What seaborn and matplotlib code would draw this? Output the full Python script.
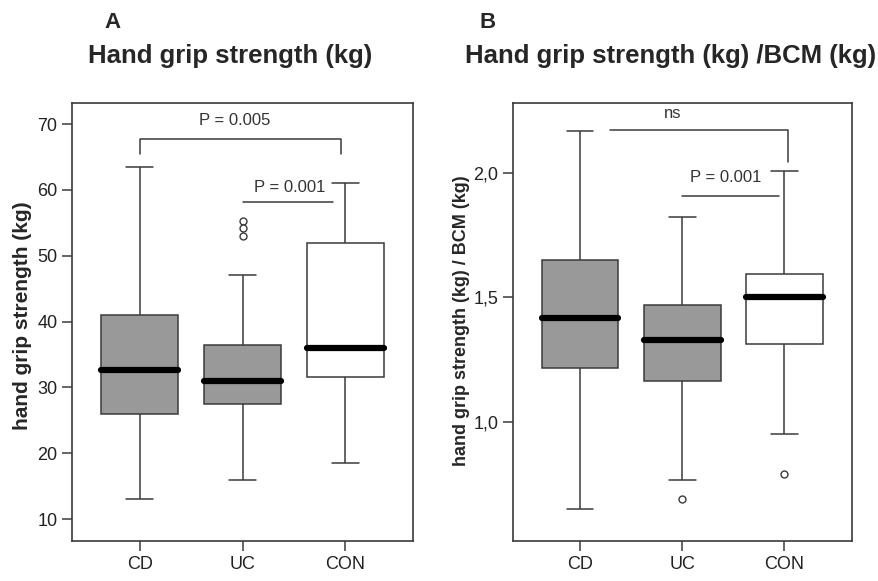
import pandas as pd
import matplotlib.pyplot as plt
import seaborn as sns

groups = ["CD", "UC", "CON"]

# panel A - hand grip strength (kg): whisker low, q1, median, q3, whisker high
grip_low = [13.0, 16.0, 18.5]
grip_q1 = [26.0, 27.5, 31.5]
grip_med = [32.6, 31.0, 36.0]
grip_q3 = [41.0, 36.5, 52.0]
grip_high = [63.4, 47.0, 61.0]
grip_out_grp = ["UC", "UC", "UC"]
grip_out = [55.3, 54.2, 53.0]

# panel B - hand grip strength / BCM
bcm_low = [0.652, 0.769, 0.951]
bcm_q1 = [1.218, 1.163, 1.312]
bcm_med = [1.419, 1.329, 1.502]
bcm_q3 = [1.649, 1.471, 1.596]
bcm_high = [2.169, 1.823, 2.007]
bcm_out_grp = ["UC", "CON"]
bcm_out = [0.692, 0.790]


def five_num_frame(lo, q1, med, q3, hi):
    rows = []
    for i, g in enumerate(groups):
        for v in (lo[i], q1[i], med[i], q3[i], hi[i]):
            rows.append({"group": g, "value": v})
    return pd.DataFrame(rows)


sns.set_theme(style="white")
plt.rcParams['font.family'] = ['Liberation Sans', 'DejaVu Sans']

edge = "#3a3a3a"
fills = {"CD": "#999999", "UC": "#999999", "CON": "white"}

fig = plt.figure(figsize=(8.79, 5.81), dpi=100)
axA = fig.add_axes([0.0819, 0.0688, 0.388, 0.754])
axB = fig.add_axes([0.5833, 0.0688, 0.3857, 0.754])

panels = [
    (axA, five_num_frame(grip_low, grip_q1, grip_med, grip_q3, grip_high), grip_out_grp, grip_out),
    (axB, five_num_frame(bcm_low, bcm_q1, bcm_med, bcm_q3, bcm_high), bcm_out_grp, bcm_out),
]
for ax, d, og, ov in panels:
    sns.boxplot(data=d, x="group", y="value", hue="group", order=groups, hue_order=groups,
                palette=fills, whis=(0, 100), width=0.75, showfliers=False, legend=False,
                linecolor=edge, linewidth=1.1, capwidths=0.26,
                medianprops=dict(color="black", linewidth=4.5, solid_capstyle="round"),
                ax=ax)
    sns.stripplot(x=og, y=ov, order=groups, jitter=False, color="white", edgecolor=edge,
                  linewidth=1, size=5, ax=ax, zorder=5)
    ax.set_xlim(-0.66, 2.66)
    ax.set_xlabel("")
    for s in ax.spines.values():
        s.set_visible(True)
        s.set_color(edge)
        s.set_linewidth(1.2)
    ax.tick_params(axis="both", direction="out", length=7, width=1.1, color=edge,
                   labelsize=13, labelcolor="#222222", left=True, bottom=True)

# panel A axes
axA.set_ylim(6.66, 73.2)
axA.set_yticks([10, 20, 30, 40, 50, 60, 70])
axA.set_ylabel("hand grip strength (kg)", fontsize=15, fontweight="bold")
axA.yaxis.set_label_coords(-0.117, 0.514)
axA.plot([0, 0, 1.96, 1.96], [65.4, 67.7, 67.7, 65.4], color=edge, lw=1.1)
axA.text(0.92, 70.6, "P = 0.005", ha="center", va="center", fontsize=12, color="#333333")
axA.plot([1.0, 1.88], [58.1, 58.1], color=edge, lw=1.1)
axA.text(1.46, 60.3, "P = 0.001", ha="center", va="center", fontsize=12, color="#333333")

# panel B axes
axB.set_ylim(0.522, 2.281)
axB.set_yticks([1.0, 1.5, 2.0])
axB.set_yticklabels(["1,0", "1,5", "2,0"])
axB.set_ylabel("hand grip strength (kg) / BCM (kg)", fontsize=13, fontweight="bold")
axB.yaxis.set_label_coords(-0.126, 0.502)
axB.plot([0.29, 2.04, 2.04], [2.174, 2.174, 2.044], color=edge, lw=1.1)
axB.text(0.91, 2.239, "ns", ha="center", va="center", fontsize=12, color="#333333")
axB.plot([1.0, 1.95], [1.909, 1.909], color=edge, lw=1.1)
axB.text(1.43, 1.98, "P = 0.001", ha="center", va="center", fontsize=12, color="#333333")

# panel letters and titles
fig.text(0.119, 0.962, "A", fontsize=16, fontweight="bold", va="center")
fig.text(0.545, 0.962, "B", fontsize=16, fontweight="bold", va="center")
fig.text(0.100, 0.8916, "Hand grip strength (kg)", fontsize=18.5, fontweight="bold", va="baseline")
fig.text(0.529, 0.8916, "Hand grip strength (kg) /BCM (kg)", fontsize=18.5, fontweight="bold",
         va="baseline")

fig.savefig("out.png", dpi=100)
